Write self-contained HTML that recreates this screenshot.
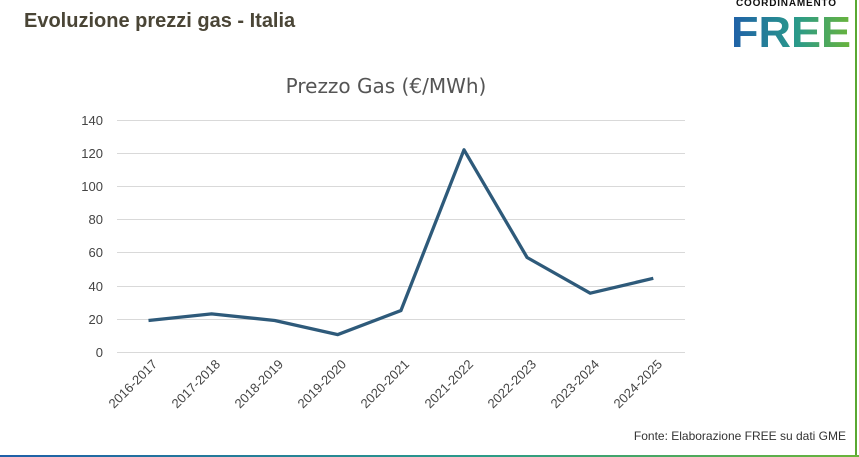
<!DOCTYPE html>
<html><head><meta charset="utf-8"><style>
body{margin:0;width:859px;height:457px;background:#fff;overflow:hidden;position:relative;font-family:"Liberation Sans",Arial,sans-serif}
</style></head><body>
<svg width="859" height="457" viewBox="0 0 859 457" xmlns="http://www.w3.org/2000/svg" style="position:absolute;left:0;top:0">
<defs><linearGradient id="g" x1="0" x2="1"><stop offset="0" stop-color="#1f5fa8"/><stop offset="0.55" stop-color="#2a9a8a"/><stop offset="1" stop-color="#6ab43a"/></linearGradient></defs>
<text x="24" y="27" font-size="20" font-weight="bold" fill="#4a4536" font-family="Liberation Sans, sans-serif">Evoluzione prezzi gas - Italia</text>
<text x="736" y="6" font-size="10" font-weight="bold" fill="#111" font-family="Liberation Sans, sans-serif" textLength="100">COORDINAMENTO</text>
<text x="731" y="47" font-size="44" font-weight="bold" fill="url(#g)" font-family="Liberation Sans, sans-serif" textLength="120" lengthAdjust="spacingAndGlyphs">FREE</text>
<line x1="856" y1="0" x2="856" y2="455" stroke="#5aa832" stroke-width="2"/>
<rect x="0" y="455" width="859" height="2" fill="url(#g)"/>
<text x="386" y="93" font-size="20" fill="#555" text-anchor="middle" font-family="DejaVu Sans, sans-serif">Prezzo Gas (€/MWh)</text>
<g stroke="#d9d9d9" stroke-width="1">
<line x1="117" x2="685" y1="120.5" y2="120.5"/><line x1="117" x2="685" y1="153.5" y2="153.5"/>
<line x1="117" x2="685" y1="186.5" y2="186.5"/><line x1="117" x2="685" y1="219.5" y2="219.5"/>
<line x1="117" x2="685" y1="252.5" y2="252.5"/><line x1="117" x2="685" y1="286.5" y2="286.5"/>
<line x1="117" x2="685" y1="319.5" y2="319.5"/><line x1="117" x2="685" y1="352.5" y2="352.5"/>
</g>
<g font-size="13" fill="#444" text-anchor="end" font-family="Liberation Sans, sans-serif">
<text x="103" y="125">140</text><text x="103" y="158">120</text><text x="103" y="191">100</text>
<text x="103" y="224">80</text><text x="103" y="257">60</text><text x="103" y="291">40</text>
<text x="103" y="324">20</text><text x="103" y="357">0</text>
</g>
<polyline fill="none" stroke="#2e5a7a" stroke-width="3.3" stroke-linejoin="round" points="148.5,320.5 211.6,313.9 274.7,320.5 337.8,334.6 400.9,310.6 464,149.8 527.1,257.5 590.2,293.2 653.3,278.3"/>
<g font-size="13" fill="#444" text-anchor="end" font-family="Liberation Sans, sans-serif">
<text transform="translate(158,365) rotate(-45)">2016-2017</text>
<text transform="translate(221,365) rotate(-45)">2017-2018</text>
<text transform="translate(284,365) rotate(-45)">2018-2019</text>
<text transform="translate(347,365) rotate(-45)">2019-2020</text>
<text transform="translate(410,365) rotate(-45)">2020-2021</text>
<text transform="translate(474,365) rotate(-45)">2021-2022</text>
<text transform="translate(537,365) rotate(-45)">2022-2023</text>
<text transform="translate(600,365) rotate(-45)">2023-2024</text>
<text transform="translate(663,365) rotate(-45)">2024-2025</text>
</g>
<text x="846" y="440" font-size="12" fill="#333" text-anchor="end" font-family="Liberation Sans, sans-serif">Fonte: Elaborazione FREE su dati GME</text>
</svg>
</body></html>
